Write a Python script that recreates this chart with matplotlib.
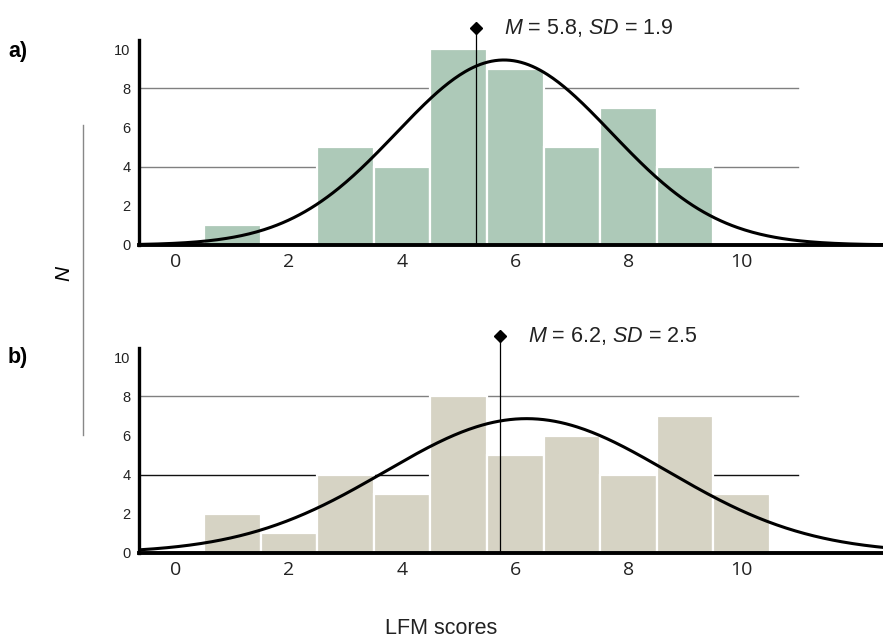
import numpy as np
import matplotlib
matplotlib.use("Agg")
import matplotlib.pyplot as plt

plt.rcParams["mathtext.fontset"] = "custom"
plt.rcParams["mathtext.it"] = "Liberation Sans:italic"
plt.rcParams["mathtext.rm"] = "Liberation Sans"

# LFM score bins and counts for the two samples
scores = [1, 2, 3, 4, 5, 6, 7, 8, 9, 10]
counts_a = [1, 0, 5, 4, 10, 9, 5, 7, 4, 0]
counts_b = [2, 1, 4, 3, 8, 5, 6, 4, 7, 3]

# summary stats printed in each panel
mean_a, sd_a = 5.8, 1.9
mean_b, sd_b = 6.2, 2.5
# where the mean marker sits on the x axis
marker_x_a = 5.3
marker_x_b = 5.73

x_ticks = [0, 2, 4, 6, 8, 10]
y_ticks = [0, 2, 4, 6, 8, 10]

fig = plt.figure(figsize=(8.83, 6.41), dpi=100)

W, H = 883, 641


def panel(bottom_px, top_px, counts, mean, sd, marker_x, color, grid_colors, label, label_y):
    ax = fig.add_axes([139 / W, 1 - bottom_px / H, 1 - 139 / W, (bottom_px - top_px) / H])
    xmin, xmax = -0.65, 12.5
    ymax = 10.47
    ax.set_xlim(xmin, xmax)
    ax.set_ylim(0, ymax)

    # horizontal guide lines behind the bars
    for yv, gc in zip([4, 8], grid_colors):
        ax.plot([xmin, 11], [yv, yv], color=gc, lw=1.0, zorder=1)

    ax.bar(scores, counts, width=1.0, color=color, edgecolor="white", linewidth=1.6, zorder=2)

    # fitted normal curve scaled to the sample size
    n = sum(counts)
    xs = np.linspace(xmin, xmax, 400)
    ys = n * np.exp(-0.5 * ((xs - mean) / sd) ** 2) / (sd * np.sqrt(2 * np.pi))
    ax.plot(xs, ys, color="black", lw=2.2, zorder=3)

    # mean marker
    ax.plot([marker_x, marker_x], [0, 11.1], color="black", lw=0.9, zorder=4, clip_on=False)
    ax.plot([marker_x], [11.1], marker="D", color="black", ms=6, clip_on=False, zorder=5)
    ax.text(marker_x + 0.5, 11.1, f"$M$ = {mean}, $SD$ = {sd}", fontsize=15.5,
            family="Liberation Sans", va="center", ha="left", color="#222222")

    for s in ["top", "right"]:
        ax.spines[s].set_visible(False)
    ax.spines["left"].set_linewidth(2.4)
    ax.spines["bottom"].set_linewidth(2.8)
    ax.spines["left"].set_zorder(6)
    ax.spines["bottom"].set_zorder(6)

    ax.set_xticks(x_ticks)
    ax.set_xticklabels([str(t) for t in x_ticks], fontsize=14, family="Open Sans", color="#222222")
    ax.set_yticks(y_ticks)
    ax.set_yticklabels([str(t) for t in y_ticks], fontsize=10.5, family="Liberation Sans", color="#222222")
    ax.tick_params(axis="both", length=0)
    ax.tick_params(axis="y", pad=6)
    ax.tick_params(axis="x", pad=6)

    fig.text(8 / W, 1 - label_y / H, label, fontsize=15.5, fontweight="bold",
             family="Liberation Sans", va="center", ha="left")
    return ax


panel(245, 40, counts_a, mean_a, sd_a, marker_x_a, "#adc9b8", ["#808080", "#808080"], "a)", 52)
panel(553, 348, counts_b, mean_b, sd_b, marker_x_b, "#d6d3c4", ["#111111", "#808080"], "b)", 358)

# shared y label with its bar
fig.add_artist(plt.Line2D([83 / W, 83 / W], [1 - 125 / H, 1 - 435 / H], color="#888888", lw=1.0))
fig.text(64 / W, 1 - 273 / H, "N", fontsize=15, style="italic", rotation=90,
         family="Liberation Sans", va="center", ha="center")

fig.text(441 / W, 1 - 629 / H, "LFM scores", fontsize=15.5, family="Liberation Sans",
         va="center", ha="center", color="#222222")

fig.savefig("out.png", dpi=100)
